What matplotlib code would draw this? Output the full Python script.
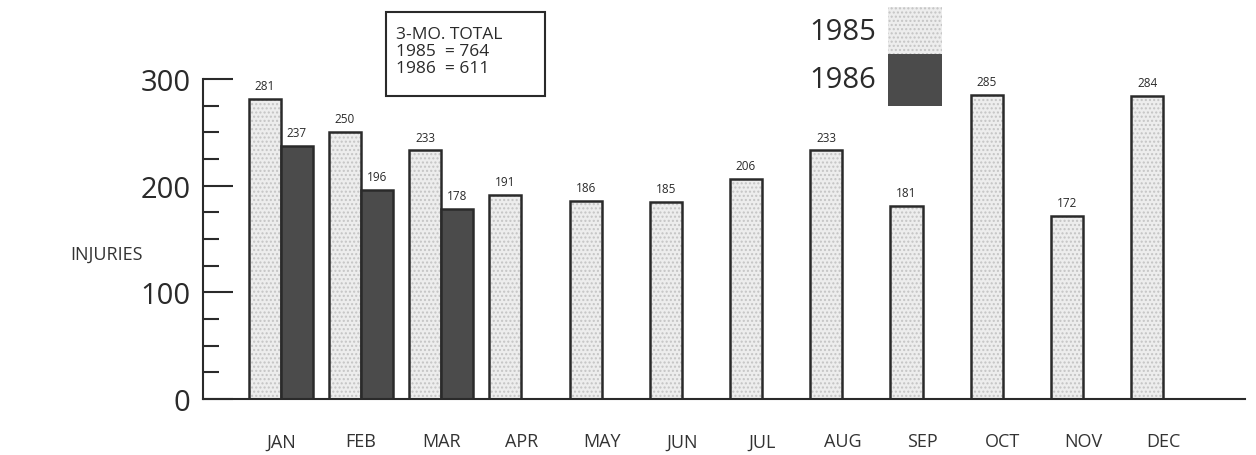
import numpy as np
import matplotlib.pyplot as plt
from matplotlib.patches import Rectangle

plt.rcParams['font.family'] = ['Open Sans', 'DejaVu Sans']

months = ["JAN", "FEB", "MAR", "APR", "MAY", "JUN",
          "JUL", "AUG", "SEP", "OCT", "NOV", "DEC"]
injuries_1985 = [281, 250, 233, 191, 186, 185, 206, 233, 181, 285, 172, 284]
injuries_1986 = [237, 196, 178]
totals = {"1985": 764, "1986": 611}

light = "#ededed"
dark = "#4b4b4b"
ink = "#2a2a2a"

fig = plt.figure(figsize=(12.56, 4.56), dpi=100)
ax = fig.add_axes([203 / 1256, 56 / 456, 1042 / 1256, 320 / 456])

x = np.arange(len(months))
w = 0.4

# 1985 bars: stippled fill, then a black outline on top
ax.bar(x - w / 2, injuries_1985, w, color=light, edgecolor="#c4c4c4",
       hatch="....", linewidth=0)
b85 = ax.bar(x - w / 2, injuries_1985, w, fill=False, edgecolor=ink,
             linewidth=1.8)
# 1986 bars (first quarter only)
x86 = x[:len(injuries_1986)]
b86 = ax.bar(x86 + w / 2, injuries_1986, w, color=dark, edgecolor=ink,
             linewidth=1.8)

ax.bar_label(b85, fmt="%d", padding=5, fontsize=8.5, color=ink)
ax.bar_label(b86, fmt="%d", padding=5, fontsize=8.5, color=ink)

ax.set_xlim(-0.97, 12.02)
ax.set_ylim(0, 300)
for s in ("top", "right"):
    ax.spines[s].set_visible(False)
for s in ("left", "bottom"):
    ax.spines[s].set_linewidth(1.5)
    ax.spines[s].set_color(ink)

ax.set_yticks([0, 100, 200, 300])
ax.set_yticks(np.arange(0, 301, 25), minor=True)
ax.tick_params(axis="y", which="major", direction="in", length=21.5,
               width=1.5, color=ink, labelsize=21, labelcolor=ink, pad=9)
ax.tick_params(axis="y", which="minor", direction="in", length=11.5,
               width=1.5, color=ink)
ax.set_xticks(x)
ax.set_xticklabels(months)
ax.tick_params(axis="x", length=0, labelsize=13, labelcolor="#333333",
               pad=24)

fig.text(70 / 1256, 1 - 255 / 456, "INJURIES", fontsize=13, color="#333333",
         va="center", ha="left")

# 3-month total box
fig.patches.append(Rectangle((386 / 1256, 1 - 97 / 456), 159 / 1256, 84 / 456,
                             transform=fig.transFigure, fill=False,
                             edgecolor=ink, linewidth=1.5))
fig.text(396 / 1256, 1 - 52 / 456,
         "3-MO. TOTAL\n1985  = %d\n1986  = %d" % (totals["1985"], totals["1986"]),
         fontsize=12.5, color=ink, va="center", ha="left", linespacing=1.1)

# legend swatches
fig.patches.append(Rectangle((888 / 1256, 1 - 55 / 456), 54 / 1256, 47 / 456,
                             transform=fig.transFigure, facecolor=light,
                             edgecolor="#c4c4c4", hatch="....", linewidth=0))
fig.patches.append(Rectangle((888 / 1256, 1 - 107 / 456), 54 / 1256, 52 / 456,
                             transform=fig.transFigure, facecolor=dark,
                             edgecolor=dark, linewidth=0))
fig.text(876 / 1256, 1 - 33 / 456, "1985", fontsize=21, color=ink,
         ha="right", va="center")
fig.text(876 / 1256, 1 - 80 / 456, "1986", fontsize=21, color=ink,
         ha="right", va="center")

fig.savefig("out.png", dpi=100)
